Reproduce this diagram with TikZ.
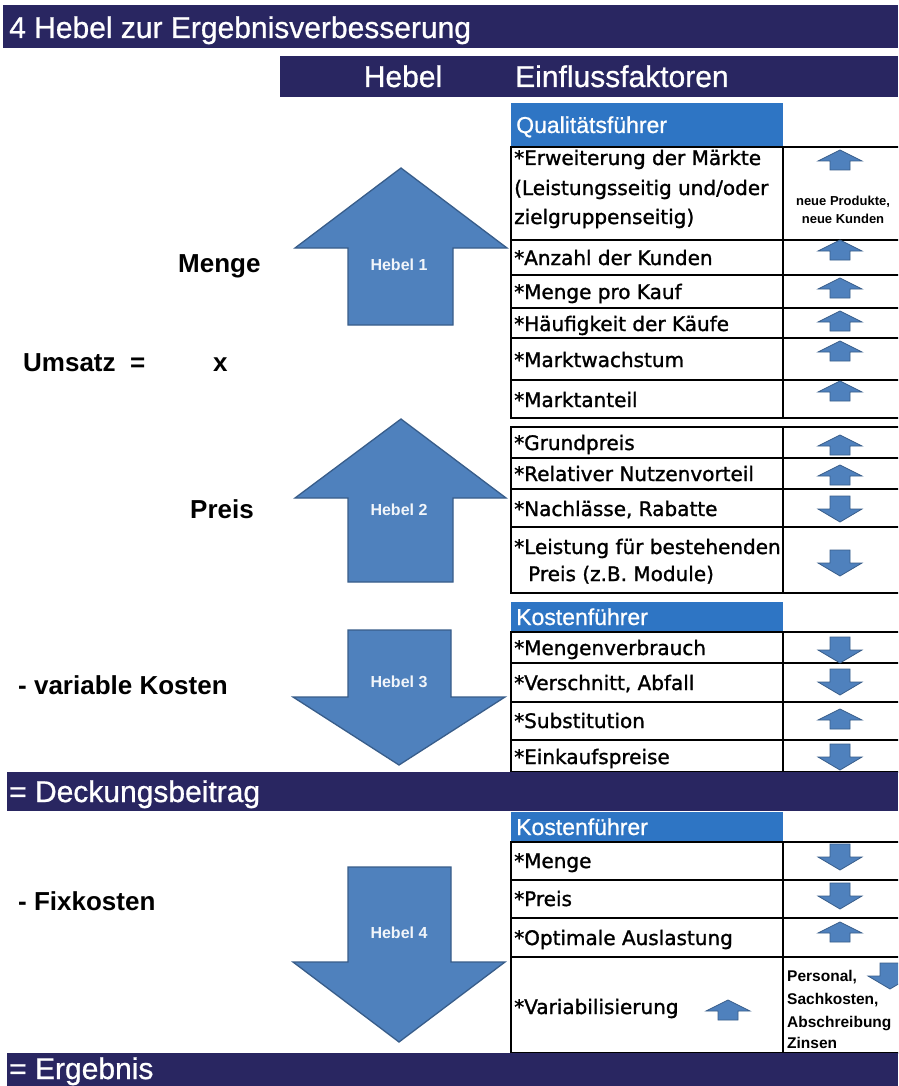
\documentclass[tikz,border=0pt]{standalone}
\usepackage{fontspec}
\setmainfont{Liberation Sans}
\newfontfamily\tabfont[FakeBold=1.3]{DejaVu Sans}
\newfontfamily\barfont[FakeBold=0.8]{Liberation Sans}
\definecolor{navy}{RGB}{41,38,97}
\definecolor{hdrblue}{RGB}{46,117,196}
\definecolor{arrfill}{RGB}{79,129,189}
\definecolor{arrline}{RGB}{56,93,138}
\begin{document}
\begin{tikzpicture}[x=1pt,y=-1pt,
  bar/.style={fill=navy},
  bartext/.style={text=white,font=\barfont\fontsize{30}{34}\selectfont,anchor=base west,inner sep=0pt},
  hdrtext/.style={text=white,font=\barfont\fontsize{23}{26}\selectfont,anchor=base west,inner sep=0pt},
  hdrfill/.style={fill=hdrblue},
  cellline/.style={draw=black,line width=1.4pt},
  celltext/.style={font=\tabfont\fontsize{20}{24}\selectfont,anchor=base west,inner sep=0pt},
  lefttext/.style={font=\bfseries\fontsize{26}{30}\selectfont,anchor=base west,inner sep=0pt},
  bigarrow/.style={fill=arrfill,draw=arrline,line width=1.3pt},
  hebeltext/.style={text=white!92!arrfill,font=\bfseries\fontsize{16}{18}\selectfont,inner sep=0pt},
  smalltext/.style={font=\bfseries\fontsize{13}{15}\selectfont,inner sep=0pt},
  notetext/.style={font=\bfseries\fontsize{15.5}{18}\selectfont,anchor=base west,inner sep=0pt},
  smallarrow/.style={fill=arrfill,draw=arrline,line width=0.8pt},
  uparr/.pic={\path[smallarrow] (0,-10)--(22,1)--(10,1)--(10,10)--(-10,10)--(-10,1)--(-22,1)--cycle;},
  downarr/.pic={\path[smallarrow] (0,13)--(22,0)--(10,0)--(10,-13)--(-10,-13)--(-10,0)--(-22,0)--cycle;}
]
\useasboundingbox (0,0) rectangle (898,1086);
\clip (0,0) rectangle (898,1086);
\fill[white] (0,0) rectangle (898,1086);

% headers of tables
\fill[hdrfill] (511,103) rectangle (783,147);
\fill[hdrfill] (511,602) rectangle (783,632);
\fill[hdrfill] (511,812) rectangle (783,842);

% tables
\foreach \t/\b in {147/418, 427/593, 632/772, 842/1053}{
  \draw[cellline] (511,\t) rectangle (905,\b);
  \draw[cellline] (783,\t) -- (783,\b);
}
\foreach \yy in {240,275,308,338,380,458,489,527,663,702,740,880,918,957}
  \draw[cellline] (511,\yy) -- (905,\yy);

% small arrows in right column
\foreach \yy in {160,250,288,321,351,391,445,475,719,932}
  \pic at (840,\yy) {uparr};
\foreach \yy in {509,563,650,682,757,857,896}
  \pic at (840,\yy) {downarr};
\pic at (728,1010) {uparr};
\pic at (890,976) {downarr};

% bars
\fill[bar] (3,5) rectangle (898,48);
\fill[bar] (280,56) rectangle (898,97);
\fill[bar] (7,772) rectangle (898,811);
\fill[bar] (7,1053) rectangle (898,1090);

\node[bartext] (title) at (9,38) {4 Hebel zur Ergebnisverbesserung};
\node[bartext,anchor=base] (hhebel) at (403,87) {Hebel};
\node[bartext] (hfakt) at (515,87) {Einflussfaktoren};
\node[bartext] (db) at (9,802) {= Deckungsbeitrag};
\node[bartext] (erg) at (9,1079) {= Ergebnis};

% big arrows
\draw[bigarrow] (401,168) -- (507,248) -- (453,248) -- (453,325) -- (348,325) -- (348,248) -- (295,248) -- cycle;
\draw[bigarrow] (401,419) -- (506,498) -- (453,498) -- (453,582) -- (348,582) -- (348,498) -- (295,498) -- cycle;
\draw[bigarrow] (348,630) -- (451,630) -- (451,697) -- (505,697) -- (399,765) -- (293,697) -- (348,697) -- cycle;
\draw[bigarrow] (348,867) -- (451,867) -- (451,962) -- (505,962) -- (399,1042) -- (293,962) -- (348,962) -- cycle;
\node[hebeltext] (h1) at (399,265) {Hebel 1};
\node[hebeltext] (h2) at (399,510) {Hebel 2};
\node[hebeltext] (h3) at (399,682) {Hebel 3};
\node[hebeltext] (h4) at (399,933) {Hebel 4};

% left labels
\node[lefttext] (menge) at (178,272) {Menge};
\node[lefttext] (umsatz) at (23,371) {Umsatz\ \ =};
\node[lefttext] (mal) at (213,371) {x};
\node[lefttext] (preis) at (190,518) {Preis};
\node[lefttext] (varko) at (18,694) {- variable Kosten};
\node[lefttext] (fixko) at (18,910) {- Fixkosten};

% header texts
\node[hdrtext] (q) at (516,133) {Qualitätsführer};
\node[hdrtext] (k1) at (516,625) {Kostenführer};
\node[hdrtext] (k2) at (516,835) {Kostenführer};

% cell texts
\node[celltext] (t1a) at (514,165) {*Erweiterung der Märkte};
\node[celltext] (t1b) at (514,195) {(Leistungsseitig und/oder};
\node[celltext] (t1c) at (514,224) {zielgruppenseitig)};
\node[celltext] (t2) at (514,265) {*Anzahl der Kunden};
\node[celltext] (t3) at (514,299) {*Menge pro Kauf};
\node[celltext] (t4) at (514,331) {*Häufigkeit der Käufe};
\node[celltext] (t5) at (514,367) {*Marktwachstum};
\node[celltext] (t6) at (514,407) {*Marktanteil};
\node[celltext] (t7) at (514,450) {*Grundpreis};
\node[celltext] (t8) at (514,481) {*Relativer Nutzenvorteil};
\node[celltext] (t9) at (514,516) {*Nachlässe, Rabatte};
\node[celltext] (t10a) at (514,554) {*Leistung für bestehenden};
\node[celltext] (t10b) at (528,581) {Preis (z.B. Module)};
\node[celltext] (t11) at (514,655) {*Mengenverbrauch};
\node[celltext] (t12) at (514,690) {*Verschnitt, Abfall};
\node[celltext] (t13) at (514,728) {*Substitution};
\node[celltext] (t14) at (514,764) {*Einkaufspreise};
\node[celltext] (t15) at (514,868) {*Menge};
\node[celltext] (t16) at (514,906) {*Preis};
\node[celltext] (t17) at (514,945) {*Optimale Auslastung};
\node[celltext] (t18) at (514,1014) {*Variabilisierung};

% notes in right column
\node[smalltext] (np) at (843,202) {neue Produkte,};
\node[smalltext] (nk) at (843,219) {neue Kunden};
\node[notetext] (p1) at (787,981) {Personal,};
\node[notetext] (p2) at (787,1004) {Sachkosten,};
\node[notetext] (p3) at (787,1027) {Abschreibung};
\node[notetext] (p4) at (787,1048) {Zinsen};
\end{tikzpicture}
\end{document}
